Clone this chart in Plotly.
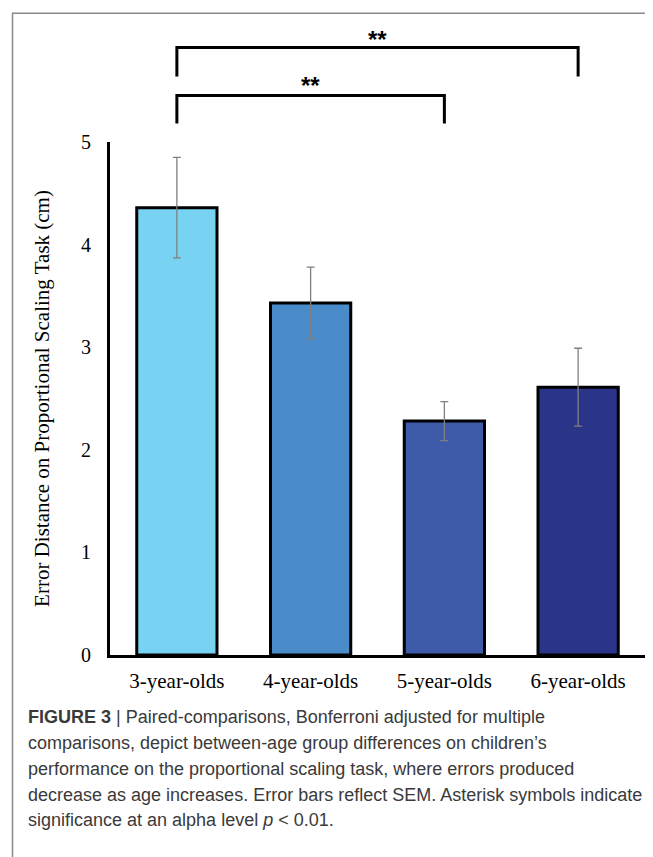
import plotly.graph_objects as go

categories = ["3-year-olds", "4-year-olds", "5-year-olds", "6-year-olds"]
means = [4.36, 3.43, 2.28, 2.61]
sem = [0.49, 0.35, 0.19, 0.38]
bar_colors = ["#78D3F3", "#4A8BC9", "#3E5BA9", "#2A3589"]
y_ticks = [0, 1, 2, 3, 4, 5]
comparisons = [(0, 2, "**"), (0, 3, "**")]
caption_lines = [
    "<b>FIGURE 3</b> | Paired-comparisons, Bonferroni adjusted for multiple",
    "comparisons, depict between-age group differences on children’s",
    "performance on the proportional scaling task, where errors produced",
    "decrease as age increases. Error bars reflect SEM. Asterisk symbols indicate",
    "significance at an alpha level <i>p</i> &lt; 0.01.",
]

OFF = 8  # page body margin
W, H = 653 - OFF, 857 - OFF
ML = 110 - OFF
plot_right = 645 - OFF
MR = W - plot_right
MT = 141.5 - OFF
plot_bottom = 655 - OFF
MB = H - plot_bottom
plot_w = plot_right - ML
plot_h = plot_bottom - MT

fig = go.Figure()
fig.add_trace(go.Bar(
    x=categories, y=means,
    marker=dict(color=bar_colors, line=dict(color="black", width=3)),
    error_y=dict(type="data", array=sem, visible=True, color="#808080",
                 thickness=1.3, width=4),
    width=0.6,
))

def px_x(px):
    return (px - OFF - ML) / plot_w

def px_y(py):
    return (plot_bottom - (py - OFF)) / plot_h

def cat_x(i):
    return (i + 0.5) / len(categories)

shapes = []
annotations = []
bracket_pos = {3: (47, 76, 39), 2: (95, 123, 85)}
for a, b, label in comparisons:
    top, leg, star = bracket_pos[b]
    xa, xb = cat_x(a), cat_x(b)
    shapes.append(dict(type="path", xref="paper", yref="paper",
                       path=f"M {xa},{px_y(leg)} L {xa},{px_y(top)} L {xb},{px_y(top)} L {xb},{px_y(leg)}",
                       line=dict(color="black", width=3)))
    annotations.append(dict(xref="paper", yref="paper", x=(xa + xb) / 2, y=px_y(star),
                            text=f"<b>{label}</b>", showarrow=False,
                            font=dict(family="Liberation Sans", size=24, color="black"),
                            xanchor="center", yanchor="middle"))

shapes.append(dict(type="rect", xref="paper", yref="paper",
                   x0=px_x(12.5), x1=px_x(720), y0=px_y(920), y1=px_y(12.5),
                   line=dict(color="#8a8a8a", width=1.5), fillcolor="rgba(0,0,0,0)"))

caption_y = [717, 743, 769, 795, 820]
for txt, cy in zip(caption_lines, caption_y):
    annotations.append(dict(xref="paper", yref="paper", x=px_x(26), y=px_y(cy),
                            text=txt, showarrow=False, align="left",
                            xanchor="left", yanchor="middle",
                            font=dict(family="Liberation Sans", size=18, color="#3a3a3a")))

fig.update_layout(
    width=W, height=H,
    margin=dict(l=ML, r=MR, t=MT, b=MB, pad=0),
    plot_bgcolor="white", paper_bgcolor="white",
    showlegend=False,
    bargap=0.4,
    shapes=shapes,
    annotations=annotations,
    font=dict(family="Liberation Serif", color="black"),
)
fig.update_yaxes(range=[0, 5], tickvals=y_ticks, showgrid=False, zeroline=False,
                 showline=True, linecolor="black", linewidth=3,
                 ticks="outside", ticklen=0, ticklabelstandoff=12,
                 tickfont=dict(family="Liberation Serif", size=20, color="black"),
                 title=dict(text="Error Distance on Proportional Scaling Task (cm)",
                            font=dict(family="Liberation Serif", size=21, color="black"),
                            standoff=26))
fig.update_xaxes(showgrid=False, zeroline=False, showline=True, linecolor="black", linewidth=3,
                 ticks="outside", ticklen=0, ticklabelstandoff=5,
                 tickfont=dict(family="Liberation Serif", size=21, color="black"))

fig.write_html("out.html")
